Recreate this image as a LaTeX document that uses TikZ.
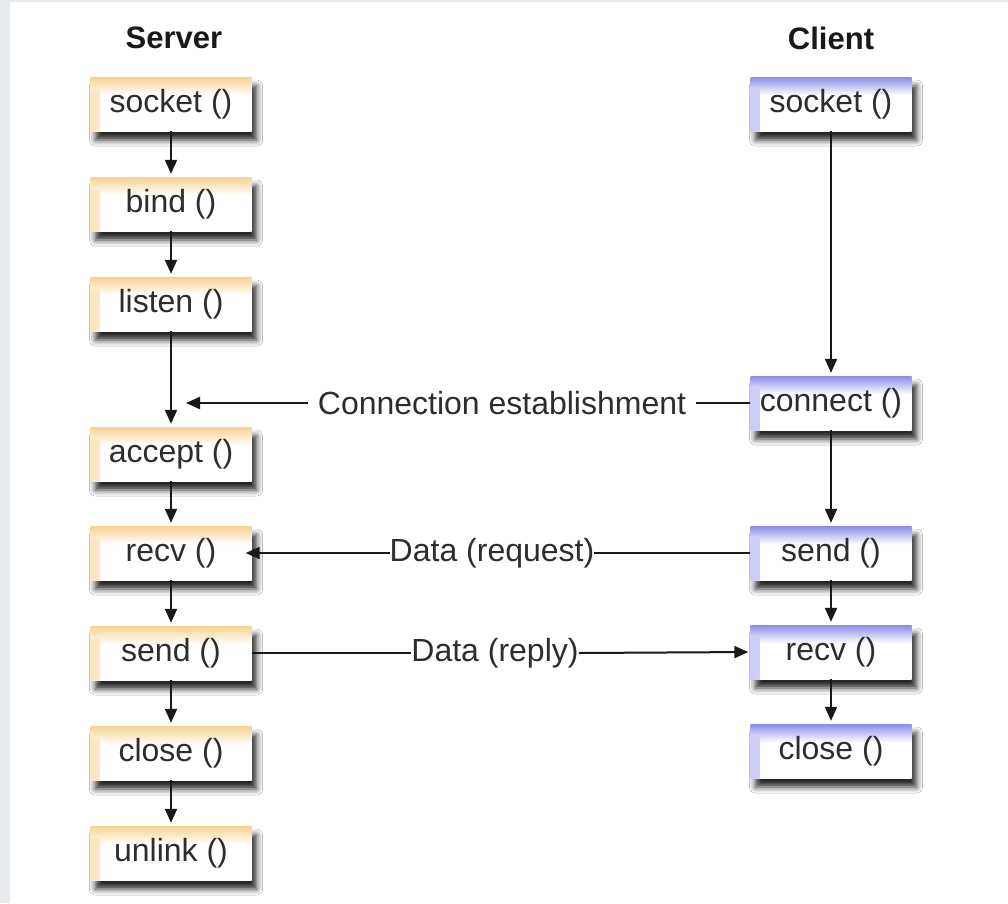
\documentclass[tikz,border=0pt]{standalone}
\usepackage{fontspec}
\setmainfont{Liberation Sans}
\usetikzlibrary{shadows.blur,arrows.meta}
\definecolor{bgray}{RGB}{231,235,237}
\definecolor{otop}{RGB}{247,210,145}
\definecolor{btop}{RGB}{140,140,232}
\definecolor{txt}{RGB}{45,45,45}
\pgfdeclareverticalshading{oshade}{100bp}{color(0bp)=(white); color(25bp)=(white); color(58bp)=(white); color(75bp)=(otop); color(100bp)=(otop)}
\pgfdeclareverticalshading{bshade}{100bp}{color(0bp)=(white); color(25bp)=(white); color(58bp)=(white); color(75bp)=(btop); color(100bp)=(btop)}
\begin{document}
\begin{tikzpicture}[x=1pt,y=-1pt,
  box/.style={minimum width=161pt, minimum height=54pt, inner sep=0pt,
    font=\fontsize{32}{38}\selectfont, text=txt,
    blur shadow={shadow xshift=5pt, shadow yshift=-9pt, shadow blur radius=6pt, shadow opacity=85}},
  sbox/.style={box, shading=oshade,
    path picture={\shade[left color=otop!55, right color=white] (path picture bounding box.south west) rectangle ([xshift=9pt,yshift=-12pt]path picture bounding box.north west);}},
  cbox/.style={box, shading=bshade,
    path picture={\shade[left color=btop!45, right color=white] (path picture bounding box.south west) rectangle ([xshift=9pt,yshift=-12pt]path picture bounding box.north west);}},
  head/.style={font=\fontsize{31}{36}\selectfont\bfseries, text=black!90},
  lbl/.style={font=\fontsize{32}{38}\selectfont, text=txt, inner sep=0pt},
  ln/.style={draw=black!90, line width=2pt},
  arr/.style={ln, -{Triangle[length=14pt,width=12pt]}, shorten >=3pt}
]
\useasboundingbox (0,0) rectangle (1008,903);
\fill[bgray] (0,0) rectangle (1008,903);
\fill[white] (10,2) rectangle (1008,903);

\node[head] (hs) at (174,38) {Server};
\node[head] (hc) at (831,38) {Client};

% server column
\node[sbox] (s1) at (171,104) {socket ()};
\node[sbox] (s2) at (171,204) {bind ()};
\node[sbox] (s3) at (171,304) {listen ()};
\node[sbox] (s4) at (171,454) {accept ()};
\node[sbox] (s5) at (171,553) {recv ()};
\node[sbox] (s6) at (171,653) {send ()};
\node[sbox] (s7) at (171,753) {close ()};
\node[sbox] (s8) at (171,853) {unlink ()};

% client column
\node[cbox] (c1) at (831,104) {socket ()};
\node[cbox] (c2) at (831,403) {connect ()};
\node[cbox] (c3) at (831,553) {send ()};
\node[cbox] (c4) at (831,652) {recv ()};
\node[cbox] (c5) at (831,751) {close ()};

% vertical arrows
\draw[arr] (s1) -- (s2);
\draw[arr] (s2) -- (s3);
\draw[arr] (s3) -- (s4);
\draw[arr] (s4) -- (s5);
\draw[arr] (s5) -- (s6);
\draw[arr] (s6) -- (s7);
\draw[arr] (s7) -- (s8);
\draw[arr] (c1) -- (c2);
\draw[arr] (c2) -- (c3);
\draw[arr] (c3) -- (c4);
\draw[arr] (c4) -- (c5);

% connection establishment
\coordinate (cj) at (186,403);
\node[lbl, inner xsep=10pt] (lconn) at (502,403) {Connection establishment};
\draw[ln] (c2.west) -- (lconn.east);
\draw[arr, shorten >=0pt] (lconn.west) -- (cj);

% data request
\node[lbl] (lreq) at (492,553) {Data (request)};
\draw[ln] (c3.west) -- (lreq.east);
\draw[arr, shorten >=-6pt] (lreq.west) -- (s5.east);

% data reply
\node[lbl] (lrep) at (495,653) {Data (reply)};
\draw[ln] (s6.east) -- (lrep.west);
\draw[arr, shorten >=2pt] (lrep.east) -- (c4.west);
\end{tikzpicture}
\end{document}
